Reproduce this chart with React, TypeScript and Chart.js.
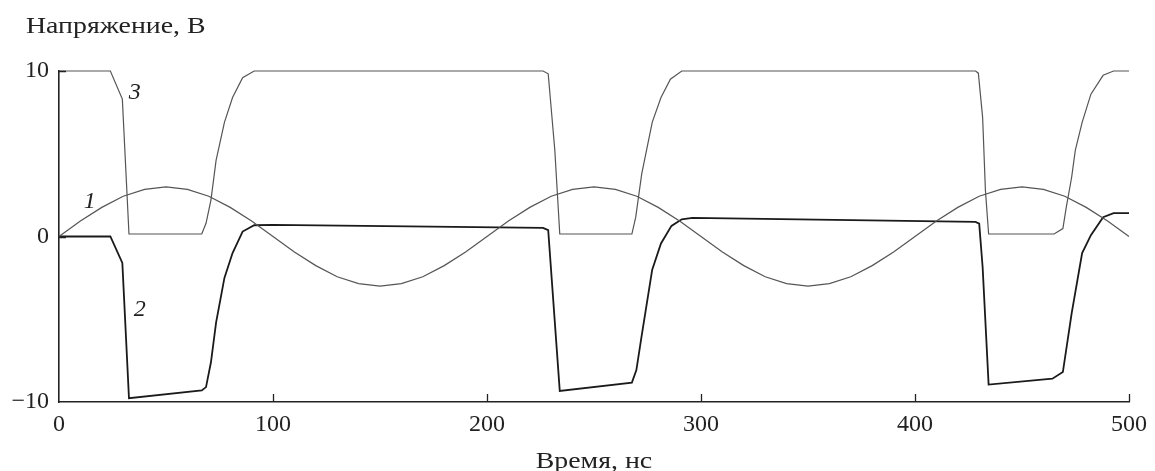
import React, { useEffect, useRef } from 'react';
import { Chart, registerables } from 'chart.js';

Chart.register(...registerables);

// ---- Data ----
const xTickValues = [0, 100, 200, 300, 400, 500];
const yTickValues = [-10, 0, 10];

// Curve 1: sinusoidal input voltage
const t1 = [0, 10, 20, 30, 40, 50, 60, 70, 80, 90, 100, 110, 120, 130, 140, 150, 160, 170, 180, 190, 200, 210, 220, 230, 240, 250, 260, 270, 280, 290, 300, 310, 320, 330, 340, 350, 360, 370, 380, 390, 400, 410, 420, 430, 440, 450, 460, 470, 480, 490, 500];
const v1 = [0, 0.93, 1.76, 2.43, 2.85, 3.0, 2.85, 2.43, 1.76, 0.93, 0, -0.93, -1.76, -2.43, -2.85, -3.0, -2.85, -2.43, -1.76, -0.93, 0, 0.93, 1.76, 2.43, 2.85, 3.0, 2.85, 2.43, 1.76, 0.93, 0, -0.93, -1.76, -2.43, -2.85, -3.0, -2.85, -2.43, -1.76, -0.93, 0, 0.93, 1.76, 2.43, 2.85, 3.0, 2.85, 2.43, 1.76, 0.93, 0];

// Curve 2: lower output
const t2 = [0, 24, 29.6, 32.7, 66.7, 68.7, 71, 73.4, 77.3, 81.1, 85.8, 91.2, 100, 226.2, 228.6, 234, 267.7, 269.8, 272.3, 277.2, 281.3, 286.2, 291, 296, 428.3, 430, 431.6, 434.4, 464.2, 469.1, 473.2, 478.1, 482.2, 487.9, 492.8, 500];
const v2 = [0, 0, -1.6, -9.77, -9.3, -9.1, -7.6, -5.2, -2.5, -1.0, 0.3, 0.68, 0.7, 0.52, 0.38, -9.33, -8.83, -8.07, -5.97, -2.0, -0.42, 0.64, 1.04, 1.12, 0.88, 0.78, -1.84, -8.95, -8.59, -8.19, -4.64, -1.0, 0.08, 1.17, 1.41, 1.41];

// Curve 3: upper output
const t3 = [0, 24, 29.6, 32.7, 66.7, 68.7, 71, 73.4, 77.3, 81.1, 85.8, 91.2, 100, 226.2, 228.6, 231.7, 234, 267.7, 269.5, 272.3, 277.2, 281.3, 285.7, 291, 300, 428.3, 429.6, 431.6, 432.9, 434.4, 465, 469.1, 470.7, 473.2, 474.9, 478.1, 482.2, 487.9, 492.8, 500];
const v3 = [10, 10, 8.3, 0.15, 0.15, 0.8, 2.2, 4.6, 6.9, 8.4, 9.6, 10, 10, 10, 9.83, 5.2, 0.15, 0.15, 1.17, 3.78, 6.9, 8.4, 9.5, 10, 10, 10, 9.87, 7.2, 2.8, 0.15, 0.15, 0.48, 1.77, 3.58, 5.2, 6.9, 8.6, 9.74, 10, 10];

// Curve labels: text, time, voltage
const curveLabelText = ['1', '2', '3'];
const curveLabelT = [14.4, 37.7, 35.4];
const curveLabelV = [2.1, -4.45, 8.7];

const yTitle = 'Напряжение, В';
const xTitle = 'Время, нс';

const FONT = '"Liberation Serif", "Times New Roman", serif';

const zip = (t: number[], v: number[]) => t.map((x, i) => ({ x, y: v[i] }));

const drawWide = (ctx: CanvasRenderingContext2D, text: string, x: number, y: number, sx: number, align: 'left' | 'center') => {
  ctx.save();
  ctx.translate(x, y);
  ctx.scale(sx, 1);
  ctx.textAlign = align;
  ctx.fillText(text, 0, 0);
  ctx.restore();
};

const decorPlugin = {
  id: 'decor',
  afterDraw(chart: any) {
    const { ctx, chartArea, scales } = chart;
    const xs = scales.x;
    const ys = scales.y;
    ctx.save();
    // inward tick marks
    ctx.strokeStyle = '#222';
    ctx.lineWidth = 1.3;
    ctx.beginPath();
    xTickValues.forEach((v) => {
      if (v === 0) return;
      const px = Math.round(xs.getPixelForValue(v)) + 0.5;
      ctx.moveTo(px, chartArea.bottom);
      ctx.lineTo(px, chartArea.bottom - 8);
    });
    yTickValues.forEach((v) => {
      if (v === -10) return;
      const py = Math.round(ys.getPixelForValue(v)) + 0.5;
      ctx.moveTo(chartArea.left, py);
      ctx.lineTo(chartArea.left + 7, py);
    });
    ctx.stroke();

    // titles
    ctx.fillStyle = '#222';
    ctx.font = `24px ${FONT}`;
    ctx.textBaseline = 'alphabetic';
    drawWide(ctx, yTitle, 26, 33, 1.16, 'left');
    drawWide(ctx, xTitle, (chartArea.left + chartArea.right) / 2, 468, 1.16, 'center');

    // curve labels
    ctx.font = `italic 24px ${FONT}`;
    ctx.textAlign = 'center';
    ctx.textBaseline = 'middle';
    curveLabelText.forEach((txt, i) => {
      ctx.fillText(txt, xs.getPixelForValue(curveLabelT[i]), ys.getPixelForValue(curveLabelV[i]));
    });
    ctx.restore();
  },
};

export default function App() {
  const canvasRef = useRef<HTMLCanvasElement | null>(null);

  useEffect(() => {
    if (!canvasRef.current) return;
    const chart = new Chart(canvasRef.current, {
      type: 'line',
      data: {
        datasets: [
          {
            label: '1',
            data: zip(t1, v1),
            borderColor: '#555',
            borderWidth: 1.2,
            pointRadius: 0,
            tension: 0,
            fill: false,
            clip: false,
          },
          {
            label: '2',
            data: zip(t2, v2),
            borderColor: '#1a1a1a',
            borderWidth: 1.8,
            pointRadius: 0,
            tension: 0,
            fill: false,
            clip: false,
          },
          {
            label: '3',
            data: zip(t3, v3),
            borderColor: '#555',
            borderWidth: 1.2,
            pointRadius: 0,
            tension: 0,
            fill: false,
            clip: false,
          },
        ],
      },
      options: {
        animation: false,
        responsive: true,
        maintainAspectRatio: false,
        layout: { padding: { left: 0, right: 22, top: 71, bottom: 0 } },
        plugins: {
          legend: { display: false },
          tooltip: { enabled: false },
          title: { display: false },
        },
        scales: {
          x: {
            type: 'linear',
            min: 0,
            max: 500,
            afterBuildTicks: (scale: any) => {
              scale.ticks = xTickValues.map((v) => ({ value: v }));
            },
            afterFit: (scale: any) => {
              scale.height = 69;
            },
            ticks: {
              color: '#222',
              font: { family: FONT, size: 24 },
              padding: 8,
              maxRotation: 0,
              autoSkip: false,
            },
            grid: { display: false, drawTicks: false },
            border: { display: true, color: '#222', width: 1.6 },
          },
          y: {
            type: 'linear',
            min: -10,
            max: 10,
            afterBuildTicks: (scale: any) => {
              scale.ticks = yTickValues.map((v) => ({ value: v }));
            },
            afterFit: (scale: any) => {
              scale.width = 59;
            },
            ticks: {
              color: '#222',
              font: { family: FONT, size: 24 },
              padding: 10,
              callback: (v: any) => (Number(v) < 0 ? '\u2212' + Math.abs(Number(v)) : String(v)),
            },
            grid: { display: false, drawTicks: false },
            border: { display: true, color: '#222', width: 1.6 },
          },
        },
      },
      plugins: [decorPlugin],
    });
    return () => chart.destroy();
  }, []);

  return (
    <div style={{ position: 'fixed', left: 0, top: 0, width: '1155px', height: '471px', background: '#fff' }}>
      <canvas ref={canvasRef} />
    </div>
  );
}
